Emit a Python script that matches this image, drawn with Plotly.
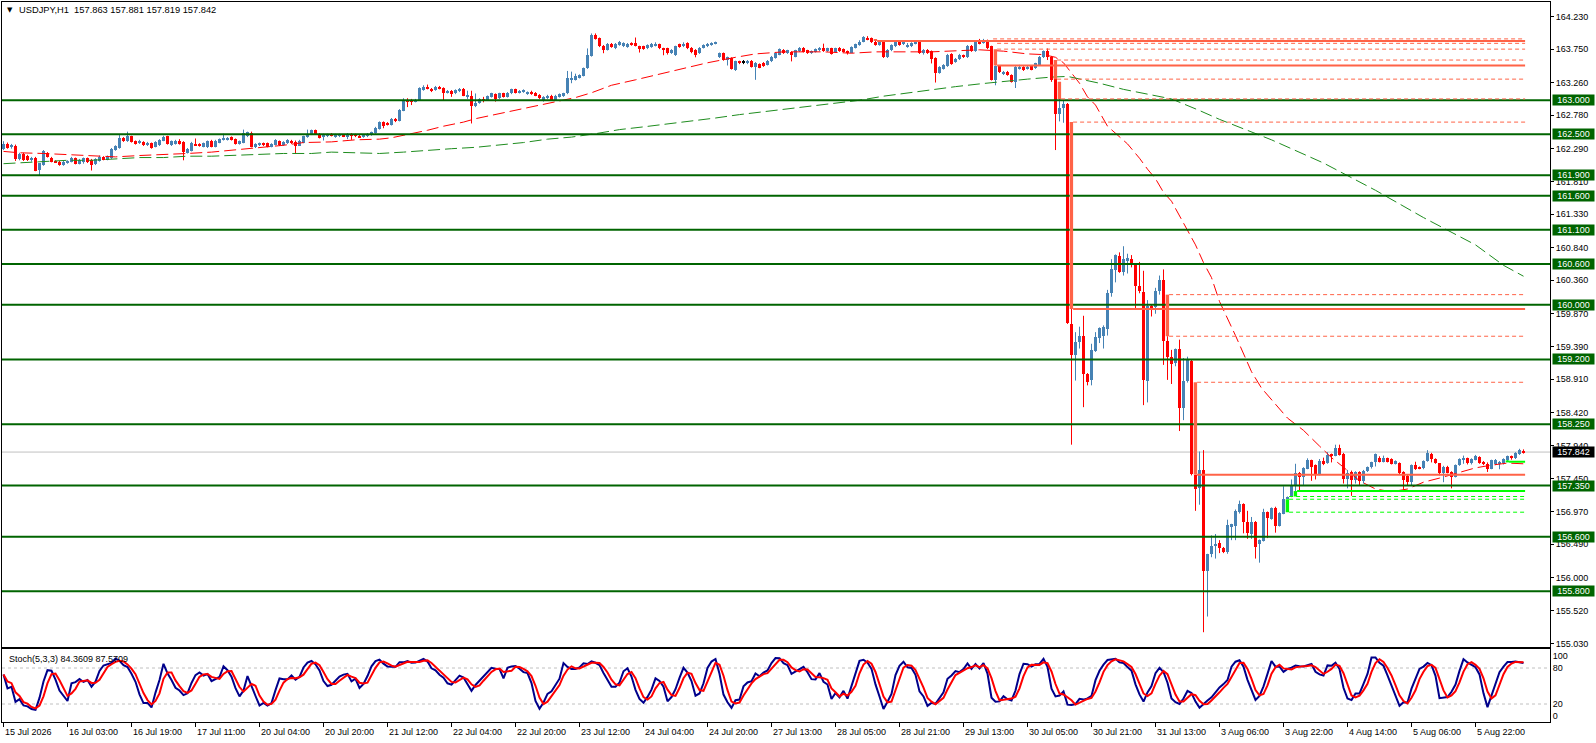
import numpy as np
import plotly.graph_objects as go

# ---------------- OHLC data (H1 bars, index 0 = 15 Jul 2026 11:00) ----------------
opens = [
162.29,162.36,162.31,162.33,162.14,162.21,162.18,162.12,162.16,161.98,
162.05,162.22,162.16,162.11,162.10,162.05,162.08,162.10,162.15,162.07,
162.10,162.15,162.13,162.06,162.11,162.17,162.13,162.15,162.27,162.30,
162.45,162.40,162.47,162.40,162.37,162.39,162.34,162.37,162.32,162.34,
162.41,162.47,162.34,162.36,162.41,162.39,162.23,162.26,162.36,162.36,
162.32,162.31,162.41,162.32,162.38,162.42,162.42,162.46,162.43,162.36,
162.38,162.47,162.52,162.31,162.34,162.37,162.37,162.32,162.35,162.40,
162.34,162.37,162.40,162.39,162.33,162.38,162.46,162.50,162.56,162.51,
162.46,162.47,162.51,162.46,162.47,162.49,162.46,162.51,162.50,162.48,
162.46,162.47,162.49,162.52,162.58,162.68,162.67,162.64,162.73,162.70,
162.85,163.01,163.01,162.98,163.00,163.15,163.20,163.17,163.15,163.20,
163.18,163.11,163.14,163.10,163.13,163.17,163.05,163.07,162.92,162.96,
163.02,163.00,163.05,163.09,163.03,163.10,163.05,163.10,163.16,163.11,
163.12,163.09,163.12,163.11,163.08,163.01,163.03,163.07,163.01,163.05,
163.06,163.10,163.30,163.30,163.33,163.36,163.47,163.65,163.96,163.91,
163.80,163.74,163.83,163.76,163.81,163.79,163.78,163.84,163.84,163.79,
163.79,163.76,163.78,163.80,163.82,163.76,163.76,163.69,163.66,163.82,
163.79,163.84,163.77,163.74,163.69,163.77,163.79,163.81,163.83,163.63,
163.69,163.59,163.62,163.44,163.57,163.55,163.54,163.58,163.49,163.53,
163.55,163.52,163.57,163.62,163.67,163.74,163.69,163.71,163.64,163.72,
163.77,163.73,163.69,163.71,163.73,163.77,163.72,163.76,163.71,163.77,
163.75,163.72,163.70,163.77,163.81,163.86,163.92,163.91,163.86,163.81,
163.85,163.63,163.73,163.79,163.85,163.82,163.78,163.79,163.83,163.86,
163.69,163.74,163.72,163.62,163.40,163.46,163.50,163.68,163.56,163.60,
163.66,163.63,163.80,163.72,163.88,163.84,163.88,163.79,163.30,163.50,
163.38,163.42,163.37,163.27,163.46,163.49,163.46,163.50,163.47,163.52,
163.63,163.72,163.64,163.32,162.80,162.88,162.95,159.72,159.26,159.46,
159.55,158.98,158.90,159.32,159.52,159.55,159.64,160.17,160.51,160.72,
160.48,160.64,160.68,160.59,160.27,160.19,158.88,159.98,159.97,160.20,
160.37,159.47,159.23,159.15,159.35,158.49,158.88,159.17,157.51,157.31,
157.58,156.10,156.34,156.47,156.51,156.44,156.38,156.75,156.76,156.96,
157.08,156.82,156.64,156.82,156.49,156.54,156.96,156.86,157.02,156.76,
156.94,157.15,157.18,157.34,157.54,157.48,157.60,157.72,157.65,157.51,
157.71,157.68,157.81,157.79,157.90,157.82,157.45,157.55,157.43,157.55,
157.42,157.57,157.62,157.69,157.76,157.70,157.75,157.74,157.67,157.68,
157.55,157.49,157.41,157.65,157.62,157.61,157.71,157.82,157.74,157.68,
157.53,157.63,157.55,157.48,157.65,157.73,157.75,157.68,157.73,157.77,
157.69,157.67,157.60,157.67,157.66,157.68,157.72,157.78,157.75,157.82,157.863]

highs = [
162.40,162.38,162.36,162.35,162.23,162.23,162.20,162.17,162.17,162.08,
162.27,162.24,162.17,162.12,162.11,162.11,162.12,162.17,162.16,162.14,
162.16,162.16,162.14,162.15,162.19,162.18,162.19,162.30,162.34,162.49,
162.46,162.54,162.48,162.41,162.42,162.40,162.39,162.38,162.40,162.43,
162.48,162.48,162.41,162.42,162.43,162.40,162.30,162.39,162.44,162.37,
162.38,162.41,162.42,162.42,162.44,162.51,162.46,162.47,162.44,162.41,
162.57,162.54,162.54,162.37,162.38,162.38,162.38,162.37,162.43,162.41,
162.40,162.43,162.42,162.41,162.42,162.48,162.57,162.57,162.57,162.52,
162.51,162.51,162.52,162.51,162.51,162.50,162.52,162.52,162.51,162.49,
162.50,162.52,162.54,162.61,162.69,162.69,162.68,162.74,162.74,162.87,
163.03,163.03,163.02,163.02,163.19,163.22,163.23,163.18,163.21,163.21,
163.19,163.15,163.15,163.16,163.18,163.18,163.14,163.14,163.10,163.03,
163.05,163.07,163.11,163.10,163.11,163.11,163.12,163.17,163.17,163.15,
163.16,163.13,163.14,163.12,163.09,163.06,163.08,163.08,163.08,163.10,
163.11,163.43,163.42,163.39,163.38,163.48,163.76,163.98,163.98,163.92,
163.81,163.84,163.84,163.84,163.87,163.85,163.84,163.85,163.92,163.80,
163.80,163.82,163.84,163.85,163.83,163.77,163.77,163.75,163.80,163.83,
163.85,163.85,163.78,163.75,163.78,163.82,163.84,163.85,163.86,163.70,
163.70,163.64,163.63,163.58,163.58,163.59,163.59,163.59,163.56,163.54,
163.56,163.59,163.65,163.70,163.76,163.75,163.74,163.72,163.74,163.78,
163.78,163.74,163.73,163.76,163.78,163.83,163.77,163.77,163.77,163.78,
163.76,163.73,163.79,163.83,163.88,163.94,163.94,163.92,163.87,163.86,
163.86,163.75,163.82,163.86,163.86,163.87,163.84,163.85,163.87,163.87,
163.75,163.75,163.73,163.63,163.50,163.53,163.68,163.69,163.62,163.68,
163.67,163.81,163.81,163.87,163.90,163.90,163.89,163.80,163.51,163.51,
163.43,163.43,163.38,163.50,163.52,163.50,163.51,163.51,163.55,163.65,
163.73,163.76,163.65,163.32,163.02,163.00,162.96,159.94,159.60,159.68,
159.84,159.00,159.43,159.60,159.67,159.70,160.22,160.67,160.74,160.77,
160.86,160.75,160.73,160.60,160.63,160.50,160.07,160.00,160.25,160.43,
160.52,159.54,159.34,159.36,159.49,159.22,159.24,159.20,157.51,157.85,
157.87,156.35,156.62,156.64,156.55,156.45,156.85,156.79,157.00,157.13,
157.09,156.98,156.89,156.83,156.56,157.01,156.97,157.03,157.04,156.96,
157.34,157.19,157.44,157.67,157.55,157.62,157.75,157.73,157.66,157.74,
157.76,157.84,157.82,157.95,157.95,157.83,157.58,157.57,157.56,157.56,
157.58,157.63,157.70,157.82,157.78,157.79,157.76,157.75,157.72,157.69,
157.56,157.51,157.66,157.70,157.63,157.72,157.87,157.83,157.75,157.68,
157.64,157.64,157.56,157.66,157.75,157.79,157.76,157.75,157.80,157.78,
157.71,157.69,157.73,157.74,157.71,157.75,157.79,157.79,157.84,157.89,157.881]

lows = [
162.27,162.29,162.29,162.11,162.12,162.11,162.11,162.10,161.96,161.89,
162.04,162.16,162.09,162.08,162.04,162.04,162.07,162.09,162.06,162.06,
162.07,162.08,161.97,162.05,162.10,162.12,162.12,162.14,162.26,162.29,
162.39,162.39,162.38,162.35,162.36,162.33,162.33,162.29,162.31,162.33,
162.40,162.35,162.33,162.35,162.35,162.12,162.22,162.25,162.33,162.32,
162.31,162.30,162.31,162.31,162.37,162.41,162.41,162.41,162.35,162.35,
162.37,162.46,162.31,162.30,162.33,162.33,162.31,162.31,162.34,162.33,
162.33,162.36,162.36,162.22,162.33,162.37,162.45,162.49,162.50,162.44,
162.41,162.46,162.47,162.45,162.46,162.46,162.43,162.42,162.46,162.45,
162.45,162.46,162.48,162.51,162.57,162.59,162.63,162.63,162.68,162.69,
162.84,162.90,162.93,162.97,162.99,163.14,163.16,163.12,163.14,163.16,
163.00,163.10,163.05,163.09,163.12,163.06,163.02,162.66,162.90,162.95,
162.97,162.99,163.04,162.98,163.02,163.04,163.04,163.09,163.10,163.10,
163.11,163.08,163.08,163.06,163.02,162.98,163.02,163.00,163.00,163.04,
163.05,163.09,163.25,163.29,163.32,163.35,163.46,163.64,163.89,163.78,
163.69,163.73,163.77,163.75,163.80,163.78,163.77,163.80,163.79,163.70,
163.74,163.75,163.77,163.79,163.75,163.66,163.67,163.68,163.65,163.77,
163.78,163.75,163.69,163.63,163.68,163.76,163.78,163.80,163.82,163.62,
163.58,163.51,163.45,163.43,163.53,163.53,163.53,163.48,163.30,163.47,
163.49,163.51,163.56,163.61,163.66,163.68,163.68,163.57,163.63,163.71,
163.70,163.68,163.68,163.70,163.72,163.71,163.71,163.67,163.70,163.71,
163.70,163.67,163.69,163.76,163.80,163.85,163.88,163.84,163.80,163.80,
163.62,163.62,163.72,163.78,163.80,163.81,163.77,163.78,163.82,163.68,
163.67,163.68,163.54,163.26,163.39,163.45,163.49,163.52,163.55,163.59,
163.62,163.62,163.71,163.71,163.82,163.83,163.75,163.29,163.22,163.40,
163.37,163.36,163.26,163.18,163.45,163.43,163.45,163.44,163.46,163.51,
163.62,163.59,163.27,162.27,162.69,162.67,159.72,157.95,158.89,159.36,
158.50,158.82,158.82,159.31,159.44,159.36,159.55,160.12,160.33,160.47,
160.43,160.46,160.55,159.93,160.17,158.53,158.57,159.83,159.87,160.15,
159.12,158.90,158.84,159.10,158.15,158.31,158.86,157.50,156.98,157.07,
155.20,155.43,156.30,156.28,156.36,156.36,156.35,156.55,156.55,156.94,
156.65,156.57,156.57,156.28,156.22,156.53,156.58,156.85,156.66,156.75,
156.93,157.15,157.18,157.27,157.28,157.36,157.59,157.42,157.44,157.50,
157.65,157.67,157.69,157.78,157.79,157.38,157.31,157.20,157.38,157.36,
157.38,157.55,157.60,157.63,157.69,157.69,157.69,157.66,157.66,157.52,
157.29,157.35,157.35,157.58,157.59,157.59,157.70,157.69,157.67,157.50,
157.40,157.53,157.31,157.47,157.64,157.67,157.66,157.66,157.72,157.67,
157.65,157.55,157.59,157.65,157.59,157.66,157.70,157.73,157.74,157.80,157.819]

closes = [
162.36,162.30,162.34,162.14,162.21,162.13,162.12,162.16,161.97,162.08,
162.26,162.17,162.10,162.09,162.05,162.10,162.11,162.16,162.07,162.13,
162.15,162.09,162.05,162.14,162.17,162.13,162.18,162.29,162.33,162.44,
162.40,162.47,162.39,162.36,162.41,162.34,162.38,162.30,162.39,162.42,
162.46,162.36,162.40,162.41,162.36,162.24,162.28,162.38,162.34,162.33,
162.37,162.40,162.32,162.41,162.43,162.45,162.45,162.42,162.36,162.40,
162.52,162.53,162.32,162.36,162.37,162.34,162.32,162.36,162.42,162.34,
162.39,162.42,162.37,162.33,162.41,162.47,162.51,162.56,162.51,162.45,
162.50,162.50,162.48,162.50,162.50,162.47,162.51,162.47,162.47,162.46,
162.49,162.51,162.53,162.60,162.68,162.63,162.64,162.73,162.69,162.86,
163.00,162.98,162.98,163.01,163.18,163.20,163.17,163.13,163.20,163.17,
163.11,163.14,163.09,163.15,163.17,163.07,163.08,162.92,162.96,163.02,
163.00,163.06,163.10,163.02,163.10,163.05,163.11,163.16,163.11,163.14,
163.15,163.12,163.10,163.07,163.03,163.05,163.07,163.01,163.07,163.09,
163.10,163.33,163.33,163.36,163.37,163.47,163.66,163.95,163.90,163.79,
163.74,163.83,163.78,163.83,163.85,163.84,163.83,163.81,163.80,163.75,
163.75,163.81,163.83,163.83,163.76,163.73,163.69,163.74,163.79,163.78,
163.83,163.76,163.71,163.67,163.77,163.81,163.83,163.84,163.85,163.69,
163.59,163.63,163.46,163.57,163.54,163.55,163.58,163.49,163.55,163.48,
163.50,163.58,163.64,163.69,163.75,163.69,163.73,163.67,163.73,163.77,
163.71,163.69,163.72,163.75,163.77,163.72,163.76,163.68,163.76,163.72,
163.71,163.69,163.78,163.82,163.86,163.93,163.89,163.85,163.81,163.85,
163.63,163.74,163.81,163.85,163.81,163.86,163.81,163.84,163.85,163.69,
163.74,163.69,163.61,163.40,163.49,163.52,163.67,163.53,163.61,163.67,
163.63,163.80,163.72,163.86,163.83,163.88,163.77,163.30,163.50,163.41,
163.42,163.37,163.27,163.49,163.49,163.44,163.49,163.45,163.54,163.64,
163.72,163.63,163.30,162.80,162.89,162.95,159.73,159.26,159.46,159.55,
158.98,158.87,159.34,159.53,159.66,159.68,160.18,160.53,160.73,160.48,
160.68,160.69,160.58,160.27,160.20,158.90,159.99,159.96,160.21,160.37,
159.47,159.23,159.14,159.35,158.49,158.88,159.21,157.52,157.30,157.58,
156.10,156.35,156.47,156.50,156.44,156.37,156.77,156.78,156.98,157.08,
156.81,156.65,156.82,156.45,156.55,156.96,156.87,157.02,156.76,156.95,
157.16,157.19,157.34,157.54,157.48,157.61,157.72,157.63,157.50,157.71,
157.66,157.80,157.79,157.90,157.80,157.45,157.53,157.43,157.55,157.42,
157.57,157.62,157.69,157.81,157.70,157.76,157.70,157.67,157.71,157.53,
157.43,157.41,157.65,157.60,157.60,157.71,157.83,157.74,157.68,157.53,
157.63,157.54,157.48,157.65,157.74,157.76,157.68,157.74,157.78,157.68,
157.66,157.60,157.72,157.72,157.70,157.74,157.78,157.75,157.83,157.87,157.842]

# ---------------- moving averages (bar index, price) ----------------
ma_fast_idx = [0,4,10,16,22,28,34,40,46,52,58,64,70,75,82,88,94,97,103,106,110,115,118,122,128,
               134,140,143,147,152,158,164,170,176,183,188,195,205,212,218,232,238,244,250,256,
               260,263,265,267,269,271,273,276,281,284,286,288,290,292,294,296,298,300,302,304,
               308,312,314.5,321,325,329,332,335,339,343,347,351,355,359,363,368,372,376,380]
ma_fast_val = [162.25,162.23,162.22,162.20,162.18,162.17,162.19,162.20,162.22,162.24,162.27,162.30,
               162.34,162.38,162.39,162.42,162.43,162.45,162.52,162.56,162.62,162.68,162.73,162.78,
               162.86,162.93,163.01,163.04,163.11,163.22,163.30,163.38,163.46,163.55,163.63,163.68,
               163.71,163.71,163.69,163.71,163.71,163.73,163.74,163.72,163.68,163.67,163.63,163.55,
               163.40,163.25,163.05,162.93,162.62,162.36,162.15,161.99,161.85,161.65,161.52,161.30,
               161.10,160.88,160.62,160.40,160.05,159.55,159.02,158.78,158.34,158.16,157.93,157.76,
               157.62,157.42,157.30,157.26,157.30,157.40,157.46,157.53,157.61,157.65,157.68,157.67]
ma_slow_idx = [0,4,10,16,22,28,34,40,46,52,58,64,70,77,82,88,94,100,106,112,118,124,130,136,142,
               148,154,160,166,172,178,184,190,196,202,208,214,220,226,232,238,244,250,256,262,
               266,270,274,280,286,292,299,304,317,330,343,355,368,375,380]
ma_slow_val = [162.07,162.08,162.10,162.12,162.12,162.14,162.16,162.16,162.18,162.18,162.19,162.21,
               162.22,162.22,162.24,162.23,162.22,162.24,162.27,162.29,162.31,162.34,162.38,162.43,
               162.46,162.51,162.57,162.61,162.65,162.69,162.74,162.79,162.83,162.88,162.92,162.96,
               163.00,163.06,163.11,163.16,163.20,163.24,163.28,163.31,163.34,163.35,163.30,163.25,
               163.16,163.09,163.02,162.85,162.72,162.42,162.08,161.68,161.28,160.88,160.58,160.42]

# ---------------- horizontal levels and zones ----------------
level_prices = [163.000,162.500,161.900,161.600,161.100,160.600,160.000,159.200,158.250,157.350,156.600,155.800]
price_ticks = [164.230,163.750,163.260,162.780,162.290,161.810,161.330,160.840,160.360,159.870,
               159.390,158.910,158.420,157.940,157.450,156.970,156.490,156.000,155.520,155.030]
last_price = 157.842

bear_zone_bar = [218, 248, 263, 264, 267, 291, 298]
bear_zone_top = [163.90, 163.75, 163.59, 163.27, 162.68, 160.15, 158.865]
bear_zone_bot = [163.87, 163.51, 163.31, 163.02, 159.94, 159.54, 157.51]
bull_zone_bar = [321, 323, 376]
bull_zone_top = [157.15, 157.27, 157.72]
bull_zone_bot = [156.96, 157.19, 157.69]

bear_line_bar = [218, 247, 248, 248, 248, 263, 263, 264, 267, 267, 291, 291, 298, 298]
bear_line_price = [163.87, 163.90, 163.835, 163.75, 163.51, 163.59, 163.31, 163.02, 162.68, 159.94,
                   160.15, 159.54, 158.865, 157.51]
bear_line_solid = [True, False, False, False, True, False, False, False, False, True,
                   False, False, False, True]
bull_line_bar = [321, 321, 321, 323, 376]
bull_line_price = [157.19, 157.15, 156.96, 157.27, 157.70]
bull_line_solid = [False, False, False, True, True]

time_labels = ["15 Jul 2026","16 Jul 03:00","16 Jul 19:00","17 Jul 11:00","20 Jul 04:00","20 Jul 20:00",
               "21 Jul 12:00","22 Jul 04:00","22 Jul 20:00","23 Jul 12:00","24 Jul 04:00","24 Jul 20:00",
               "27 Jul 13:00","28 Jul 05:00","28 Jul 21:00","29 Jul 13:00","30 Jul 05:00","30 Jul 21:00",
               "31 Jul 13:00","3 Aug 06:00","3 Aug 22:00","4 Aug 14:00","5 Aug 06:00","5 Aug 22:00"]
time_label_step = 16

stoch_k, stoch_slow, stoch_d = 5, 3, 3

# ---------------- build ----------------
o = np.array(opens); h = np.array(highs); l = np.array(lows); c = np.array(closes)
n = len(c)
assert len(o) == n and len(h) == n and len(l) == n, (len(o), len(h), len(l), n)
idx = np.arange(n)

BLUE = "#4682B4"; RED = "#FF0000"; DOJI = "#000000"
col = np.where(c > o, BLUE, np.where(c < o, RED, DOJI))

fig = go.Figure()

# wicks
for cc in (BLUE, RED, DOJI):
    xs, ys = [], []
    for i in idx[col == cc]:
        xs += [i, i, None]
        ys += [min(l[i], o[i], c[i]), max(h[i], o[i], c[i]), None]
    if xs:
        fig.add_trace(go.Scatter(x=xs, y=ys, mode="lines", line=dict(color=cc, width=1),
                                 hoverinfo="skip", showlegend=False, xaxis="x", yaxis="y"))

# bodies
body_base = np.minimum(o, c)
body_h = np.maximum(np.abs(c - o), 0.013)
fig.add_trace(go.Bar(x=idx, y=body_h, base=body_base, width=0.75,
                     marker=dict(color=list(col), line=dict(width=0)),
                     hoverinfo="skip", showlegend=False, xaxis="x", yaxis="y"))

# moving averages
fig.add_trace(go.Scatter(x=ma_fast_idx, y=ma_fast_val, mode="lines",
                         line=dict(color="#FF0000", width=1, dash="12px,5px"),
                         hoverinfo="skip", showlegend=False, xaxis="x", yaxis="y"))
fig.add_trace(go.Scatter(x=ma_slow_idx, y=ma_slow_val, mode="lines",
                         line=dict(color="#1E8C1E", width=1, dash="12px,5px"),
                         hoverinfo="skip", showlegend=False, xaxis="x", yaxis="y"))

# stochastic (5,3,3) computed from the OHLC arrays
ll = np.array([l[max(0, i - stoch_k + 1):i + 1].min() for i in range(n)])
hh = np.array([h[max(0, i - stoch_k + 1):i + 1].max() for i in range(n)])
num = c - ll; den = hh - ll
num_s = np.array([num[max(0, i - stoch_slow + 1):i + 1].sum() for i in range(n)])
den_s = np.array([den[max(0, i - stoch_slow + 1):i + 1].sum() for i in range(n)])
k_line = 100.0 * num_s / np.where(den_s == 0, 1, den_s)
d_line = np.array([k_line[max(0, i - stoch_d + 1):i + 1].mean() for i in range(n)])

fig.add_trace(go.Scatter(x=idx, y=k_line, mode="lines", line=dict(color="#00008B", width=2),
                         hoverinfo="skip", showlegend=False, xaxis="x2", yaxis="y2"))
fig.add_trace(go.Scatter(x=idx, y=d_line, mode="lines", line=dict(color="#FF0000", width=2),
                         hoverinfo="skip", showlegend=False, xaxis="x2", yaxis="y2"))

XMIN, XMAX = -0.375, 386.625
X_END = n - 1 + 0.4
shapes = []
shapes.append(dict(type="line", xref="x", yref="y", x0=XMIN, x1=XMAX, y0=last_price, y1=last_price,
                   line=dict(color="#C0C0C0", width=1), layer="below"))
for p in level_prices:
    shapes.append(dict(type="line", xref="x", yref="y", x0=XMIN, x1=XMAX, y0=p, y1=p,
                       line=dict(color="#006400", width=2)))
ZONE_RED = "#FF6347"; ZONE_GREEN = "#00FF00"
for b, t, bt in zip(bear_zone_bar, bear_zone_top, bear_zone_bot):
    shapes.append(dict(type="rect", xref="x", yref="y", x0=b - 0.45, x1=b + 0.4, y0=bt, y1=t,
                       fillcolor=ZONE_RED, line=dict(width=0)))
for b, t, bt in zip(bull_zone_bar, bull_zone_top, bull_zone_bot):
    shapes.append(dict(type="rect", xref="x", yref="y", x0=b - 0.45, x1=b + 0.4, y0=bt, y1=t,
                       fillcolor=ZONE_GREEN, line=dict(width=0)))
for b, p, s in zip(bear_line_bar, bear_line_price, bear_line_solid):
    shapes.append(dict(type="line", xref="x", yref="y", x0=b + 0.4, x1=X_END, y0=p, y1=p,
                       line=dict(color=ZONE_RED, width=2 if s else 1, dash="solid" if s else "4px,3px")))
for b, p, s in zip(bull_line_bar, bull_line_price, bull_line_solid):
    shapes.append(dict(type="line", xref="x", yref="y", x0=b + 0.4, x1=X_END, y0=p, y1=p,
                       line=dict(color=ZONE_GREEN, width=2 if s else 1, dash="solid" if s else "4px,3px")))
for lv in (20, 80):
    shapes.append(dict(type="line", xref="x2", yref="y2", x0=XMIN, x1=XMAX, y0=lv, y1=lv,
                       line=dict(color="#C0C0C0", width=1, dash="3px,3px"), layer="below"))

FONT = "Liberation Sans"
ann = []
for p in level_prices:
    ann.append(dict(xref="paper", yref="y", x=1, y=p, xanchor="left", yanchor="middle", xshift=2,
                    text=f"{p:.3f}", showarrow=False, bgcolor="#006400", borderpad=0, width=41, height=10,
                    font=dict(family=FONT, size=9, color="#FFFFFF")))
ann.append(dict(xref="paper", yref="y", x=1, y=last_price, xanchor="left", yanchor="middle", xshift=2,
                text=f"{last_price:.3f}", showarrow=False, bgcolor="#000000", borderpad=0, width=41, height=10,
                font=dict(family=FONT, size=9, color="#FFFFFF")))
for k, t in enumerate(time_labels):
    ann.append(dict(xref="x2", yref="paper", x=k * time_label_step, y=0, xanchor="left", yanchor="top",
                    yshift=-3, xshift=-1, text=t, showarrow=False,
                    font=dict(family=FONT, size=9, color="#000000")))
PW, PH = 1548.0, 720.0
ann.append(dict(xref="paper", yref="paper", x=(9.5 - 2) / PW, y=(722 - 10.5) / PH, xanchor="center",
                yanchor="middle", text="▼", showarrow=False, font=dict(family="DejaVu Sans", size=7, color="#000000")))
ann.append(dict(xref="paper", yref="paper", x=(17 - 2) / PW, y=(722 - 10.5) / PH, xanchor="left",
                yanchor="middle", text="USDJPY,H1\u00a0\u00a0157.863 157.881 157.819 157.842", showarrow=False,
                font=dict(family=FONT, size=9.3, color="#000000")))
ann.append(dict(xref="paper", yref="paper", x=(7 - 2) / PW, y=(722 - 659) / PH, xanchor="left",
                yanchor="middle", text="Stoch(5,3,3) 84.3609 87.5709", showarrow=False,
                font=dict(family=FONT, size=9, color="#000000")))

axis_common = dict(showgrid=False, zeroline=False, showline=True, mirror=True, linecolor="#000000",
                   linewidth=1, automargin=False, fixedrange=True)
fig.update_layout(
    template="none",
    width=1596, height=743,
    margin=dict(l=2, r=46, t=2, b=21, autoexpand=False),
    paper_bgcolor="#FFFFFF", plot_bgcolor="#FFFFFF",
    showlegend=False, hovermode=False, bargap=0,
    xaxis=dict(domain=[0, 1], range=[XMIN, XMAX], anchor="y", showticklabels=False, ticks="", **axis_common),
    xaxis2=dict(domain=[0, 1], range=[XMIN, XMAX], anchor="y2", showticklabels=False, ticks="outside",
                ticklen=4, tickcolor="#000000", tickvals=[k * time_label_step for k in range(len(time_labels))],
                **axis_common),
    yaxis=dict(domain=[0.1046, 1], range=[154.988, 164.441], side="right", anchor="x",
               tickvals=price_ticks, ticktext=[f"{v:.3f}" for v in price_ticks], ticks="outside", ticklen=3,
               tickcolor="#000000", tickfont=dict(family=FONT, size=9, color="#000000"), **axis_common),
    yaxis2=dict(domain=[0, 0.1014], range=[-10, 111.7], side="right", anchor="x2",
                tickvals=[0, 20, 80, 100], ticktext=["0", "20", "80", "100"], ticks="", ticklen=0,
                tickfont=dict(family=FONT, size=9, color="#000000"), **axis_common),
    shapes=shapes, annotations=ann,
)

fig.write_html(
    "out.html",
    config={"displayModeBar": False},
    post_script="document.body.style.margin='0';document.body.style.padding='0';"
                "document.body.style.overflow='hidden';",
)
